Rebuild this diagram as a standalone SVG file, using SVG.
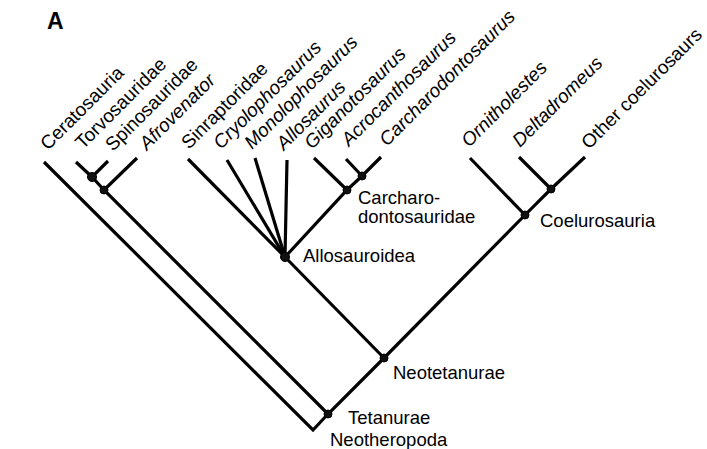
<svg xmlns="http://www.w3.org/2000/svg" width="707" height="449" viewBox="0 0 707 449">
<style>
.br{fill:none;stroke:#000;stroke-width:3.2;stroke-linecap:butt;stroke-linejoin:miter}
.nd{fill:#111;stroke:#000;stroke-width:1}
text{font-family:"Liberation Sans",Arial,Helvetica,sans-serif;font-size:18.5px;fill:#000}
.rt{font-size:19px}
.it{font-style:italic}
.ttl{font-weight:bold;font-size:23px}
</style>
<rect width="707" height="449" fill="#fff"/>
<g id="connectors">
<polyline class="br" points="44,162 313,430 328,414 384,358 525,215 551,189 585,157"/>
<polyline class="br" points="76,162 92,177 104,190 328,414"/>
<line class="br" x1="108" y1="161" x2="92" y2="177"/>
<line class="br" x1="137" y1="158" x2="104" y2="190"/>
<line class="br" x1="384" y1="358" x2="285" y2="257"/>
<line class="br" x1="188" y1="159" x2="285" y2="257"/>
<line class="br" x1="227" y1="160" x2="285" y2="257"/>
<line class="br" x1="255" y1="158" x2="285" y2="257"/>
<line class="br" x1="287" y1="160" x2="285" y2="257"/>
<polyline class="br" points="285,257 347,190 362,176 381,157"/>
<line class="br" x1="314" y1="158" x2="347" y2="190"/>
<line class="br" x1="346" y1="159" x2="362" y2="176"/>
<line class="br" x1="470" y1="158" x2="525" y2="215"/>
<line class="br" x1="519" y1="157" x2="551" y2="189"/>
</g>
<g id="node-torvo"><circle class="nd" cx="92" cy="177" r="4.5"/></g>
<g id="node-afro"><circle class="nd" cx="104" cy="190" r="4"/></g>
<g id="node-tetanurae"><circle class="nd" cx="328" cy="414" r="4"/><text x="348" y="424">Tetanurae</text><text x="330" y="446">Neotheropoda</text></g>
<g id="node-neotetanurae"><circle class="nd" cx="384" cy="358" r="4"/><text x="393" y="379">Neotetanurae</text></g>
<g id="node-allosauroidea"><circle class="nd" cx="285" cy="257" r="4.5"/><text x="303" y="262">Allosauroidea</text></g>
<g id="node-carcharodontosauridae"><circle class="nd" cx="347" cy="190" r="4"/><text x="358" y="204">Carcharo-</text><text x="358" y="223">dontosauridae</text></g>
<g id="node-acro"><circle class="nd" cx="362" cy="176" r="4"/></g>
<g id="node-coelurosauria"><circle class="nd" cx="525" cy="215" r="4"/><text x="540" y="227">Coelurosauria</text></g>
<g id="node-delta"><circle class="nd" cx="551" cy="189" r="4"/></g>
<g id="title"><text class="ttl" x="47" y="29">A</text></g>
<g id="taxa">
<text class="rt" transform="translate(48,151) rotate(-45)">Ceratosauria</text>
<text class="rt" transform="translate(83,150) rotate(-45)">Torvosauridae</text>
<text class="rt" transform="translate(113,152) rotate(-45)">Spinosauridae</text>
<text class="rt it" transform="translate(147,151) rotate(-45)">Afrovenator</text>
<text class="rt" transform="translate(189,150) rotate(-45)">Sinraptoridae</text>
<text class="rt it" transform="translate(221,150) rotate(-45)">Cryolophosaurus</text>
<text class="rt it" transform="translate(252,150) rotate(-45)">Monolophosaurus</text>
<text class="rt it" transform="translate(284,151) rotate(-45)">Allosaurus</text>
<text class="rt it" transform="translate(312,150) rotate(-45)">Giganotosaurus</text>
<text class="rt it" transform="translate(349,147) rotate(-45)">Acrocanthosaurus</text>
<text class="rt it" transform="translate(387,147) rotate(-45)">Carcharodontosaurus</text>
<text class="rt it" transform="translate(469,148) rotate(-45)">Ornitholestes</text>
<text class="rt it" transform="translate(520,148) rotate(-45)">Deltadromeus</text>
<text class="rt" transform="translate(589,150) rotate(-45)">Other coelurosaurs</text>
</g>
</svg>
